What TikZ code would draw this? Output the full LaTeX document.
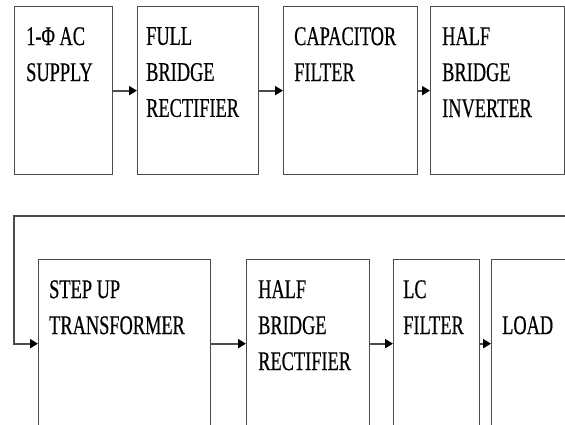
\documentclass[tikz,border=0pt]{standalone}
\usepackage{fontspec}
\setmainfont{Liberation Serif}[FakeStretch=0.68,FakeBold=0.4]
\usetikzlibrary{arrows.meta,positioning}

\tikzset{
    blk/.style={draw=black!70,line width=1.3pt,rectangle,inner sep=0pt,
        anchor=north west,minimum height=168pt},
    txt/.style={inner sep=0pt,align=left,font=\fontsize{27}{36}\selectfont},
    flow/.style={draw=black!70,line width=1.8pt,
        -{Triangle[length=8pt,width=9pt,color=black]}}
}

\begin{document}
\begin{tikzpicture}[x=1pt,y=-1pt]
    \clip (0,0) rectangle (565,425);

    % top row
    \node[blk,minimum width=98pt]  (ac)  at (14,6)  {};
    \node[blk,minimum width=121pt] (fbr) at (137,6) {};
    \node[blk,minimum width=134pt] (cap) at (283,6) {};
    \node[blk,minimum width=134pt] (hbi) at (430,6) {};

    \node[txt,below right=21pt and 12pt of ac.north west]  (acT)  {1-Φ AC\\SUPPLY};
    \node[txt,below right=21pt and 9pt of fbr.north west]  (fbrT) {FULL\\BRIDGE\\RECTIFIER};
    \node[txt,below right=21pt and 11pt of cap.north west] (capT) {CAPACITOR\\FILTER};
    \node[txt,below right=21pt and 12pt of hbi.north west] (hbiT) {HALF\\BRIDGE\\INVERTER};

    % bottom row
    \node[blk,minimum width=172pt] (sut)  at (38,259)  {};
    \node[blk,minimum width=123pt] (hbr)  at (246,259) {};
    \node[blk,minimum width=86pt]  (lcf)  at (393,259) {};
    \node[blk,minimum width=120pt] (load) at (491,259) {};

    \node[txt,below right=21pt and 11pt of sut.north west]  (sutT)  {STEP UP\\TRANSFORMER};
    \node[txt,below right=21pt and 12pt of hbr.north west]  (hbrT)  {HALF\\BRIDGE\\RECTIFIER};
    \node[txt,below right=21pt and 10pt of lcf.north west]  (lcfT)  {LC\\FILTER};
    \node[txt,below right=57pt and 11pt of load.north west] (loadT) {LOAD};

    % connections
    \draw[flow] (ac) -- (fbr);
    \draw[flow] (fbr) -- (cap);
    \draw[flow] (cap) -- (hbi);
    \draw[flow] (sut) -- (hbr);
    \draw[flow] (hbr) -- (lcf);
    \draw[flow] (lcf) -- (load);

    \coordinate (fbR) at (566,216);
    \coordinate (fbL) at (14,216);
    \draw[flow] (fbR) -- (fbL) |- (sut.west);
\end{tikzpicture}
\end{document}
